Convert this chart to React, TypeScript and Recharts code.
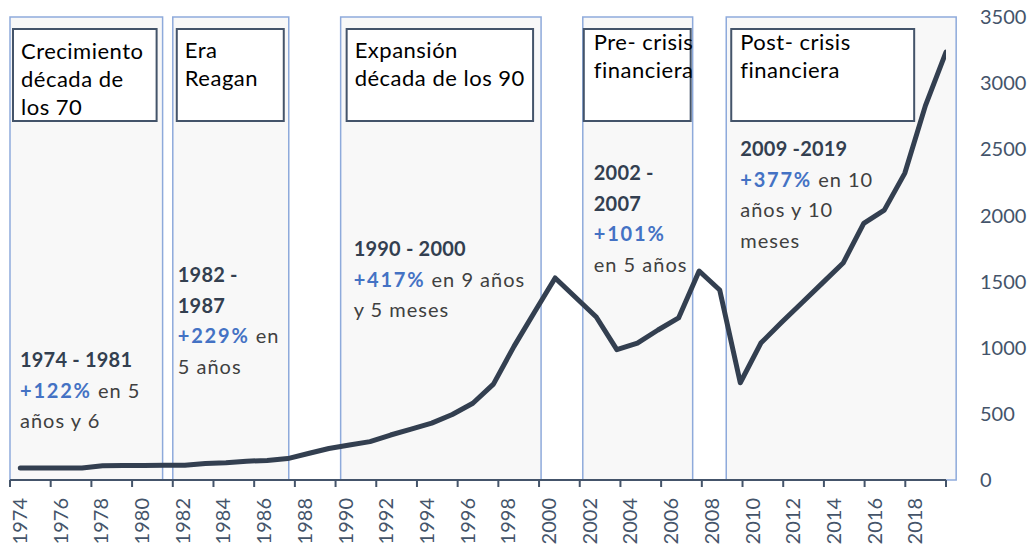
import { LineChart, Line, XAxis, YAxis, ReferenceArea } from 'recharts';

// Índice anual
const years = [
  1974, 1975, 1976, 1977, 1978, 1979, 1980, 1981, 1982, 1983,
  1984, 1985, 1986, 1987, 1988, 1989, 1990, 1991, 1992, 1993,
  1994, 1995, 1996, 1997, 1998, 1999, 2000, 2001, 2002, 2003,
  2004, 2005, 2006, 2007, 2008, 2009, 2010, 2011, 2012, 2013,
  2014, 2015, 2016, 2017, 2018, 2019,
];
const indexValues = [
  90, 90, 90, 91, 108, 110, 110, 111, 112, 125,
  130, 142, 148, 162, 200, 238, 265, 290, 340, 385,
  430, 495, 580, 725, 1010, 1270, 1527, 1380, 1232, 985,
  1035, 1134, 1225, 1580, 1436, 735, 1035, 1190, 1340, 1490,
  1640, 1940, 2040, 2320, 2830, 3235,
];

const xTicks = [1974, 1976, 1978, 1980, 1982, 1984, 1986, 1988, 1990, 1992, 1994, 1996, 1998, 2000, 2002, 2004, 2006, 2008, 2010, 2012, 2014, 2016, 2018, 2020];
const yTicks = [0, 500, 1000, 1500, 2000, 2500, 3000, 3500];

// Periodos sombreados
const periodStart = [1974, 1982, 1990.25, 2002.15, 2009.2];
const periodEnd = [1981.5, 1987.7, 2000.1, 2007.55, 2020.5];
const periodTitles = [
  ['Crecimiento', 'década de', 'los 70'],
  ['Era', 'Reagan'],
  ['Expansión', 'década de los 90'],
  ['Pre- crisis', 'financiera'],
  ['Post- crisis', 'financiera'],
];
// y = años (negrita), g = ganancia (azul), t = texto
const periodNotes = [
  [[['1974 - 1981', 'y']], [['+122%', 'g'], [' en 5', 't']], [['años y 6', 't']]],
  [[['1982 -', 'y']], [['1987', 'y']], [['+229%', 'g'], [' en', 't']], [['5 años', 't']]],
  [[['1990 - 2000', 'y']], [['+417%', 'g'], [' en 9 años', 't']], [['y 5 meses', 't']]],
  [[['2002 -', 'y']], [['2007', 'y']], [['+101%', 'g']], [['en 5 años', 't']]],
  [[['2009 -2019', 'y']], [['+377%', 'g'], [' en 10', 't']], [['años y 10', 't']], [['meses', 't']]],
];

const chartData = years.map((year, i) => ({ year, value: indexValues[i] }));

const DARK = '#333f50';
const BLUE = '#4472c4';
const GREY = '#404040';
const AXIS = '#44546a';

// ajustes de maquetación de cada recuadro (px)
const boxLayout = [
  { l: 3, r: 6, tx: 8, ty: 42, nx: 10, ny: 350 },
  { l: 4, r: 5, tx: 8, ty: 41, nx: 5, ny: 265 },
  { l: 6, r: 8, tx: 8, ty: 41, nx: 13, ny: 239 },
  { l: 1, r: 2, tx: 10, ty: 33, nx: 11, ny: 163 },
  { l: 5, r: 42, tx: 9, ty: 33, nx: 14, ny: 139 },
];

const tokenStyle = (kind: string) => {
  if (kind === 'y') return { fill: DARK, fontWeight: 700, letterSpacing: 0.2 };
  if (kind === 'g') return { fill: BLUE, fontWeight: 700, letterSpacing: 1.8 };
  return { fill: GREY, fontWeight: 400, letterSpacing: 1 };
};

function PeriodLabel({ viewBox, idx }: any) {
  const { x, y, width } = viewBox;
  const lay = boxLayout[idx];
  const bx = x + lay.l;
  const bw = width - lay.l - lay.r;
  return (
    <g>
      <rect x={bx} y={y + 12} width={bw} height={92} fill="#ffffff" stroke={AXIS} strokeWidth={2} />
      {periodTitles[idx].map((line, i) => (
        <text key={i} x={bx + lay.tx} y={y + lay.ty + i * 28} fontSize={22} fill="#000" letterSpacing={0.5}>
          {line}
        </text>
      ))}
      {periodNotes[idx].map((line, i) => (
        <text key={'n' + i} x={x + lay.nx} y={y + lay.ny + i * 30.5} fontSize={20}>
          {line.map(([txt, kind], j) => (
            <tspan key={j} {...tokenStyle(kind)} style={{ whiteSpace: 'pre' }}>
              {txt}
            </tspan>
          ))}
        </text>
      ))}
    </g>
  );
}

function YearTick({ x, y, payload }: any) {
  if (payload.value === 2020) return <g />;
  const cx = x + 10;
  return (
    <text
      x={cx}
      y={y}
      transform={`rotate(-90 ${cx} ${y})`}
      textAnchor="end"
      dy="0.35em"
      fontSize={20}
      fill={AXIS}
    >
      {payload.value}
    </text>
  );
}

export default function App() {
  return (
    <div style={{ position: 'absolute', left: 0, top: 0, fontFamily: 'Lato, sans-serif', background: '#fff' }}>
      <LineChart width={1034} height={549} data={chartData} margin={{ top: 17, right: 28, bottom: 9, left: 10 }}>
        <XAxis
          xAxisId="cat"
          dataKey="year"
          type="number"
          domain={[1974, 2020]}
          allowDataOverflow
          ticks={xTicks}
          interval={0}
          height={60}
          tick={<YearTick />}
          tickSize={7}
          tickMargin={11}
          axisLine={{ stroke: AXIS, strokeWidth: 2 }}
          tickLine={{ stroke: AXIS, strokeWidth: 2 }}
        />
        <XAxis xAxisId="line" dataKey="year" type="number" domain={[1973.5, 2019]} allowDataOverflow hide />
        <YAxis
          orientation="right"
          domain={[0, 3500]}
          ticks={yTicks}
          interval={0}
          width={60}
          axisLine={false}
          tickLine={false}
          tickSize={0}
          tickMargin={34}
          tick={{ fontSize: 20, fill: AXIS }}
        />
        {periodStart.map((start, i) => (
          <ReferenceArea
            key={i}
            xAxisId="cat"
            x1={start}
            x2={periodEnd[i]}
            y1={0}
            y2={3500}
            ifOverflow="visible"
            fill="#f8f8f8"
            fillOpacity={1}
            stroke="#8eaadb"
            strokeWidth={1.5}
            label={(props: any) => <PeriodLabel {...props} idx={i} />}
          />
        ))}
        {/* serie invisible para anclar el eje de categorías */}
        <Line
          xAxisId="cat"
          dataKey="value"
          stroke="transparent"
          strokeWidth={0}
          dot={false}
          activeDot={false}
          isAnimationActive={false}
        />
        <Line
          xAxisId="line"
          dataKey="value"
          type="linear"
          stroke={DARK}
          strokeWidth={5}
          strokeLinecap="round"
          strokeLinejoin="round"
          dot={false}
          isAnimationActive={false}
        />
      </LineChart>
    </div>
  );
}
